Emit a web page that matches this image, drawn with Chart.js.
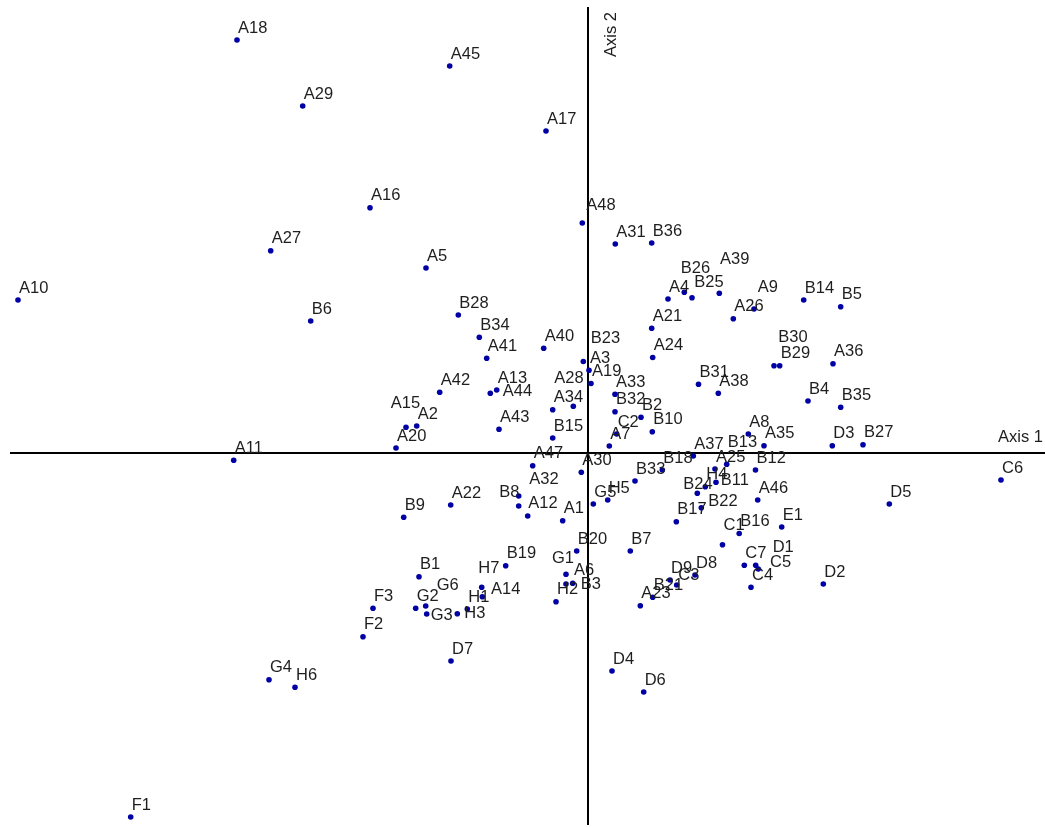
<!DOCTYPE html>
<html>
<head>
<meta charset="utf-8">
<script src="https://cdn.jsdelivr.net/npm/chart.js@4/dist/chart.umd.min.js"></script>
<style>
  html, body { margin: 0; padding: 0; background: #ffffff; }
  #wrap { width: 1045px; height: 827px; position: relative; }
</style>
</head>
<body>
<div id="wrap"><canvas id="plot"></canvas></div>
<script>
// Ordination scores: point names and their coordinates on Axis 1 / Axis 2
const pointNames = [
  'A1','A2','A3','A4','A5','A6','A7','A8','A9','A10','A11','A12','A13','A14','A15','A16',
  'A17','A18','A19','A20','A21','A22','A23','A24','A25','A26','A27','A28','A29','A30','A31','A32',
  'A33','A34','A35','A36','A37','A38','A39','A40','A41','A42','A43','A44','A45','A46','A47','A48',
  'B1','B2','B3','B4','B5','B6','B7','B8','B9','B10','B11','B12','B13','B14','B15','B16','B17','B18',
  'B19','B20','B21','B22','B23','B24','B25','B26','B27','B28','B29','B30','B31','B32','B33','B34','B35','B36',
  'C1','C2','C3','C4','C5','C6','C7',
  'D1','D2','D3','D4','D5','D6','D7','D8','D9',
  'E1',
  'F1','F2','F3',
  'G1','G2','G3','G4','G5','G6',
  'H1','H2','H3','H4','H5','H6','H7'
];

const axis1Scores = [
  -0.253,-1.713,0.010,0.800,-1.620,-0.220,0.213,1.603,1.660,-5.700,-3.543,-0.693,-0.913,-1.057,-1.820,-2.180,
  -0.420,-3.510,0.030,-1.920,0.637,-1.373,0.523,0.647,1.270,1.453,-3.173,-0.147,-2.853,-0.067,0.273,-0.603,
  0.270,-0.353,1.760,2.450,1.053,1.303,1.313,-0.443,-1.013,-1.483,-0.890,-0.977,-1.383,1.697,-0.553,-0.057,
  -1.690,0.530,-0.153,2.200,2.527,-2.773,0.423,-0.693,-1.843,0.643,1.280,1.675,1.387,2.157,-0.353,1.512,0.883,0.743,
  -0.823,-0.113,0.647,1.133,-0.047,1.093,1.040,0.963,2.750,-1.297,1.917,1.860,1.105,0.270,0.470,-1.087,2.527,0.637,
  1.345,0.287,0.887,1.630,1.703,4.130,1.563,
  1.677,2.353,2.443,0.240,3.013,0.557,-1.370,1.070,0.820,
  1.937,
  -4.573,-2.250,-2.150,
  -0.220,-1.723,-1.613,-3.190,0.053,-1.623,
  -1.207,-0.320,-1.307,1.173,0.197,-2.930,-1.063
];

const axis2Scores = [
  -0.677,0.270,0.827,1.540,1.850,-1.310,0.070,0.190,1.440,1.530,-0.073,-0.530,0.630,-1.437,0.257,2.453,
  3.220,4.130,0.695,0.050,1.247,-0.520,-1.527,0.955,-0.160,1.343,2.023,0.467,3.470,-0.193,2.090,-0.630,
  0.587,0.433,0.073,0.893,-0.030,0.598,1.597,1.047,0.947,0.607,0.237,0.597,3.870,-0.470,-0.127,2.300,
  -1.237,0.357,-1.303,0.520,1.463,1.320,-0.980,-0.430,-0.643,0.213,-0.293,-0.170,-0.113,1.530,0.150,-0.805,-0.687,-0.170,
  -1.127,-0.980,-1.443,-0.547,0.915,-0.403,1.553,1.607,0.083,1.380,0.873,0.873,0.687,0.413,-0.280,1.157,0.457,2.100,
  -0.917,0.190,-1.320,-1.343,-1.160,-0.270,-1.123,
  -1.123,-1.310,0.073,-2.180,-0.510,-2.390,-2.080,-1.220,-1.270,
  -0.740,
  -3.640,-1.837,-1.553,
  -1.213,-1.553,-1.610,-2.267,-0.510,-1.530,
  -1.560,-1.487,-1.607,-0.337,-0.470,-2.343,-1.343
];

const axisTitles = ['Axis 1', 'Axis 2'];

// Visible window of the plane and the drawn extent of the two axis lines
const axis1Window = [-5.88, 4.57];
const axis2Window = [-3.74, 4.53];
const axis1Line = [-5.78, 4.57];
const axis2Line = [-3.72, 4.46];

// Label placement: default is just above-right of the point; crowded names are moved
const labelDefault = [1, -7.5];
const labelNudge = {
  A6: [8, -9], A9: [3.7, -17.3], A12: [9.6, 2.3], A14: [8.7, -2.7], A15: [-15.3, -19],
  A28: [-19, -23], A32: [1.6, -32], A39: [0.7, -29], A44: [12.4, 2.4], A48: [4, -13],
  B3: [8, 6], B8: [-19.4, 0.7], B11: [4.7, 2.7], B13: [1, -17.6], B22: [7, -1.7],
  B23: [7.4, -18.8], B24: [-14, -4], B25: [2.3, -11], B26: [-3.6, -19], B30: [4.3, -24],
  C1: [1, -14.7], C3: [1.6, -5], C5: [11.7, -2.3], D1: [17, -13.6],
  G1: [-14, -11], G3: [4, 6], G6: [11, -16], H3: [7, 4.6], H7: [-3.4, -14]
};

const LABEL_FONT = '16.5px "Liberation Sans", Arial, sans-serif';
const TEXT_COLOR = '#1e1e1e';
const POINT_COLOR = '#0000a4';

const points = pointNames.map((name, i) => ({ x: axis1Scores[i], y: axis2Scores[i], name }));

// Axes crossing at the origin, with their titles
const crossAxes = {
  id: 'crossAxes',
  beforeDatasetsDraw(chart) {
    const { ctx, scales: { x, y } } = chart;
    const x0 = x.getPixelForValue(0);
    const y0 = y.getPixelForValue(0);
    const yTop = y.getPixelForValue(axis2Line[1]);
    ctx.save();
    ctx.strokeStyle = '#000000';
    ctx.lineWidth = 2;
    ctx.beginPath();
    ctx.moveTo(x.getPixelForValue(axis1Line[0]), y0);
    ctx.lineTo(x.getPixelForValue(axis1Line[1]), y0);
    ctx.moveTo(x0, y.getPixelForValue(axis2Line[0]));
    ctx.lineTo(x0, yTop);
    ctx.stroke();

    ctx.fillStyle = TEXT_COLOR;
    ctx.font = LABEL_FONT;
    ctx.textBaseline = 'alphabetic';
    ctx.textAlign = 'right';
    ctx.fillText(axisTitles[0], x.getPixelForValue(axis1Line[1]) - 2, y0 - 11);

    ctx.translate(x0 + 27.5, yTop + 50);
    ctx.rotate(-Math.PI / 2);
    ctx.textAlign = 'left';
    ctx.fillText(axisTitles[1], 0, 0);
    ctx.restore();
  }
};

// Point names written beside each marker
const pointLabels = {
  id: 'pointLabels',
  afterDatasetsDraw(chart) {
    const { ctx } = chart;
    const meta = chart.getDatasetMeta(0);
    ctx.save();
    ctx.fillStyle = TEXT_COLOR;
    ctx.font = LABEL_FONT;
    ctx.textBaseline = 'alphabetic';
    ctx.textAlign = 'left';
    meta.data.forEach((el, i) => {
      const name = points[i].name;
      const [dx, dy] = labelNudge[name] || labelDefault;
      ctx.fillText(name, el.x + dx, el.y + dy);
    });
    ctx.restore();
  }
};

new Chart(document.getElementById('plot'), {
  type: 'scatter',
  data: {
    datasets: [{
      data: points,
      backgroundColor: POINT_COLOR,
      borderWidth: 0,
      pointRadius: 2.8,
      pointHoverRadius: 2.8,
      clip: false
    }]
  },
  options: {
    responsive: true,
    maintainAspectRatio: false,
    animation: false,
    events: [],
    layout: { padding: 0, autoPadding: false },
    plugins: { legend: { display: false }, tooltip: { enabled: false } },
    scales: {
      x: { type: 'linear', display: false, min: axis1Window[0], max: axis1Window[1] },
      y: { type: 'linear', display: false, min: axis2Window[0], max: axis2Window[1] }
    }
  },
  plugins: [crossAxes, pointLabels]
});
</script>
</body>
</html>
